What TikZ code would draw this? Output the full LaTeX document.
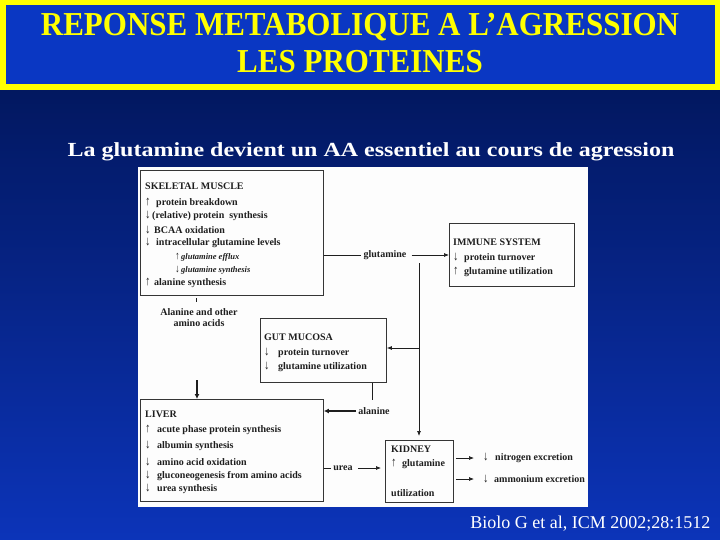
\documentclass[tikz,border=0pt]{standalone}
\usepackage{fontspec}
\setmainfont{Liberation Serif}
\usetikzlibrary{arrows.meta,calc}
\definecolor{bgtop}{RGB}{0,18,78}
\definecolor{bgbot}{RGB}{12,52,185}
\definecolor{titlefill}{RGB}{10,55,195}
\definecolor{ttlyellow}{RGB}{255,255,0}
\definecolor{panelw}{RGB}{253,253,253}
\definecolor{ink}{RGB}{30,30,30}
\newcommand\upa[1]{\makebox[#1][l]{\smash{\scalebox{1.1}[1.3]{↑}}}}
\newcommand\dna[1]{\makebox[#1][l]{\smash{\scalebox{1.1}[1.3]{↓}}}}
\begin{document}
\begin{tikzpicture}[x=1pt,y=-1pt,
  box/.style={draw=ink!90, line width=0.9pt, anchor=north west, inner sep=0pt},
  ln/.style={anchor=west, inner sep=0pt, font=\fontsize{10}{12}\selectfont\bfseries, text=ink},
  sm/.style={anchor=west, inner sep=0pt, font=\fontsize{8.5}{10}\selectfont\bfseries\itshape, text=ink},
  lab/.style={inner sep=2pt, font=\fontsize{10}{11}\selectfont\bfseries, text=ink},
  con/.style={draw=ink, line width=0.7pt},
  arr/.style={con, -{Latex[length=5pt,width=4pt]}},
  thickarr/.style={draw=ink, line width=1.4pt, -{Latex[length=5pt,width=5pt]}},
]
\useasboundingbox (0,0) rectangle (720,540);
\shade[top color=bgtop, bottom color=bgbot] (0,0) rectangle (720,540);
% title
\draw[fill=titlefill, draw=ttlyellow, line width=5.5pt] (2.75,2.75) rectangle (717.25,87);
\node[font=\fontsize{31}{37}\selectfont\bfseries, text=ttlyellow, align=center] (title) at (360,43)
  {\scalebox{1}[1.08]{REPONSE METABOLIQUE A L’AGRESSION}\\\scalebox{1}[1.08]{LES PROTEINES}};
\node[font=\fontsize{20}{24}\selectfont\bfseries, text=white] (subtitle) at (371,152)
  {\scalebox{1.2}[1]{La glutamine devient un AA essentiel au cours de agression}};
\node[font=\fontsize{18}{22}\selectfont, text=white, anchor=east] (cite) at (714,524)
  {Biolo G et al, ICM 2002;28:1512};
% panel
\fill[panelw] (138,167) rectangle (588,507);
% boxes
\node[box, minimum width=183pt, minimum height=125pt] (muscle) at (140,170) {};
\node[box, minimum width=125pt, minimum height=63pt] (immune) at (449,223) {};
\node[box, minimum width=126pt, minimum height=64pt] (gut) at (260,318) {};
\node[box, minimum width=183pt, minimum height=102pt] (liver) at (140,399) {};
\node[box, minimum width=68pt, minimum height=62pt] (kidney) at (385,440) {};
% muscle text
\node[ln] (m1) at (145,186) {SKELETAL MUSCLE};
\node[ln] (m2) at (145,203) {\upa{11pt}protein breakdown};
\node[ln] (m3) at (145,216) {\dna{7pt}(relative) protein\ \ synthesis};
\node[ln] (m4) at (145,229.6) {\dna{9pt}BCAA oxidation};
\node[ln] (m5) at (145,243) {\dna{11pt}intracellular glutamine levels};
\node[sm] (m6) at (175,257) {\upa{6pt}glutamine efflux};
\node[sm] (m7) at (175,270) {\dna{6pt}glutamine synthesis};
\node[ln] (m8) at (145,283) {\upa{9pt}alanine synthesis};
% immune text
\node[ln] (i1) at (453,242) {IMMUNE SYSTEM};
\node[ln] (i2) at (453,258) {\dna{11pt}protein turnover};
\node[ln] (i3) at (453,272) {\upa{11pt}glutamine utilization};
% gut text
\node[ln] (g1) at (264,337) {GUT MUCOSA};
\node[ln] (g2) at (264,353) {\dna{14pt}protein turnover};
\node[ln] (g3) at (264,367) {\dna{14pt}glutamine utilization};
% liver text
\node[ln] (l1) at (145,414) {LIVER};
\node[ln] (l2) at (145,430) {\upa{12pt}acute phase protein synthesis};
\node[ln] (l3) at (145,446) {\dna{12pt}albumin synthesis};
\node[ln] (l4) at (145,462) {\dna{12pt}amino acid oxidation};
\node[ln] (l5) at (145,476) {\dna{12pt}gluconeogenesis from amino acids};
\node[ln] (l6) at (145,489.5) {\dna{12pt}urea synthesis};
% kidney text
\node[ln] (k1) at (391,449) {KIDNEY};
\node[ln] (k2) at (391,464) {\upa{11pt}glutamine};
\node[ln] (k3) at (391,493) {utilization};
% connectors
\node[lab] (glut) at (385,255) {glutamine};
\draw[con] (muscle.east |- glut) -- (glut.west);
\draw[arr] (glut.east) ++(3,0) -- (immune.west |- glut);
\coordinate (jtop) at (419,263);
\coordinate (jgut) at (419,348);
\draw[arr, shorten >=4pt] (jtop) -- (kidney.north -| jtop);
\draw[arr] (jgut) -- (gut.east |- jgut);
\node[lab] (ala) at (374,411) {alanine};
\coordinate (ga) at (372,400);
\draw[con] (gut.south -| ga) -- (ga);
\draw[thickarr, line width=1.1pt] (ala.west) -- (liver.east |- ala);
\node[lab, align=center] (aao) at (199,318) {Alanine and other\\amino acids};
\coordinate (tk1) at (196,298);
\coordinate (tk2) at (196,302);
\draw[con] (tk1) -- (tk2);
\coordinate (la) at (197,380);
\draw[thickarr] (la) -- (liver.north -| la);
\node[lab] (urea) at (343,468) {urea};
\draw[con] (liver.east |- urea) -- (urea.west);
\draw[arr, shorten >=4pt] (urea.east) ++(3,0) -- (kidney.west |- urea);
\node[ln] (nit) at (483,458) {\dna{12pt}nitrogen excretion};
\node[ln] (amm) at (483,479) {\dna{11pt}ammonium excretion};
\draw[arr, shorten <=2pt, shorten >=9pt] (kidney.east |- nit) -- (nit.west);
\draw[arr, shorten <=2pt, shorten >=9pt] (kidney.east |- amm) -- (amm.west);
\end{tikzpicture}
\end{document}
